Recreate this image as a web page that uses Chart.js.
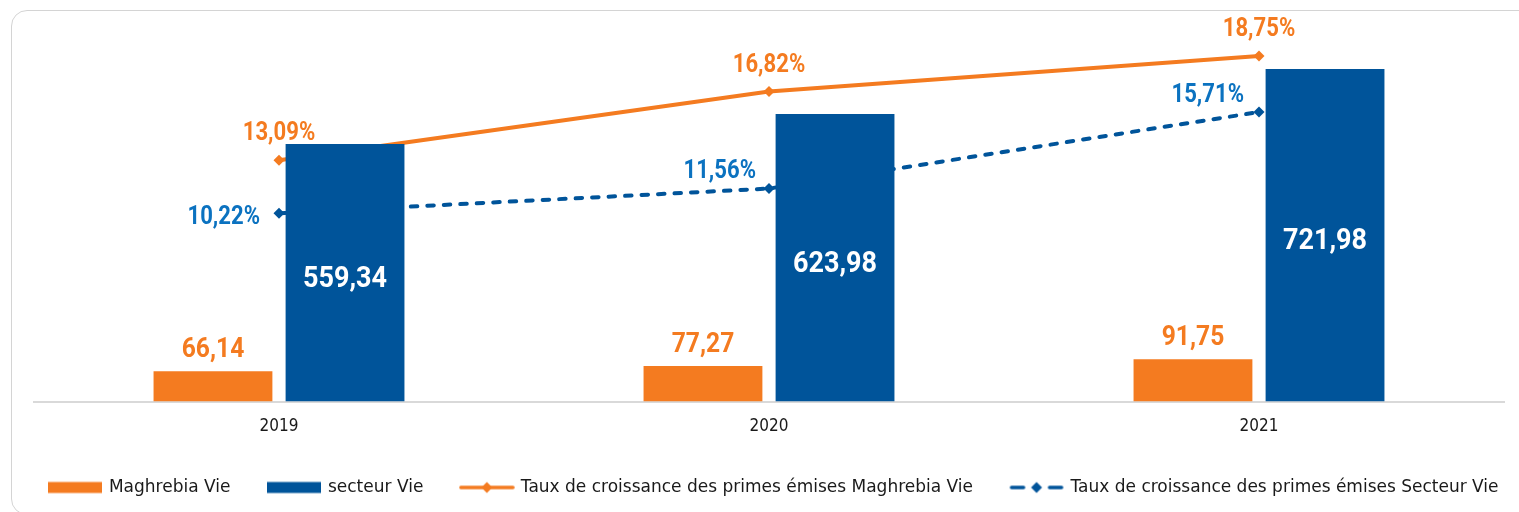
<!DOCTYPE html>
<html>
<head>
<meta charset="utf-8">
<script src="https://cdn.jsdelivr.net/npm/chart.js@4.4.0/dist/chart.umd.min.js"></script>
<style>
  html, body { margin: 0; padding: 0; background: #fff; overflow: hidden; }
  #wrap { position: relative; width: 1519px; height: 512px; overflow: hidden; }
  #card {
    position: absolute; left: 11px; top: 10px; width: 1540px; height: 505px;
    border: 1.5px solid #d4d4d4; border-radius: 16px; box-sizing: border-box;
  }
  #myChart { position: absolute; left: 0; top: 0; }
</style>
</head>
<body>
<div id="wrap">
  <div id="card"></div>
  <canvas id="myChart" width="1519" height="512"></canvas>
</div>
<script>
const years = ["2019", "2020", "2021"];
const maghrebiaVie = [66.14, 77.27, 91.75];
const secteurVie = [559.34, 623.98, 721.98];
const tauxMaghrebia = [13.09, 16.82, 18.75];
const tauxSecteur = [10.22, 11.56, 15.71];
const seriesNames = [
  "Maghrebia Vie",
  "secteur Vie",
  "Taux de croissance des primes émises Maghrebia Vie",
  "Taux de croissance des primes émises Secteur Vie",
];

const ORANGE = "#f47b20",
  BLUE = "#00549a",
  LABEL_BLUE = "#0b72c0";

// where the labels of the blue % line sit, relative to each point
const secteurLabelShift = [
  { dx: -19, dy: 11 },
  { dx: -13, dy: -11 },
  { dx: -15, dy: -10 },
];

function fmt(v, pct) {
  return v.toFixed(2).replace(".", ",") + (pct ? "%" : "");
}

function legendIcon(kind, color) {
  const c = document.createElement("canvas");
  c.width = 56;
  c.height = 14;
  const g = c.getContext("2d");
  g.fillStyle = color;
  g.strokeStyle = color;
  if (kind === "bar") {
    g.fillRect(1, 1.5, 54, 11);
    return c;
  }
  g.lineWidth = 3.5;
  g.lineCap = "round";
  g.beginPath();
  if (kind === "line") {
    g.moveTo(2, 7);
    g.lineTo(54, 7);
  } else {
    g.moveTo(3, 7);
    g.lineTo(15, 7);
    g.moveTo(41, 7);
    g.lineTo(53, 7);
  }
  g.stroke();
  g.beginPath();
  g.moveTo(28, 1.5);
  g.lineTo(33.5, 7);
  g.lineTo(28, 12.5);
  g.lineTo(22.5, 7);
  g.closePath();
  g.fill();
  return c;
}

const legendIcons = [
  legendIcon("bar", ORANGE),
  legendIcon("bar", BLUE),
  legendIcon("line", ORANGE),
  legendIcon("dash", BLUE),
];

function condensedText(ctx, text, x, y, align, font, color, sx) {
  ctx.save();
  ctx.font = font;
  ctx.fillStyle = color;
  ctx.textAlign = align;
  ctx.textBaseline = "alphabetic";
  ctx.translate(x, y);
  ctx.scale(sx, 1);
  ctx.fillText(text, 0, 0);
  ctx.restore();
}

const valueLabels = {
  id: "valueLabels",
  afterDatasetsDraw(chart) {
    const ctx = chart.ctx;
    const f = "Roboto, 'DejaVu Sans', sans-serif";
    chart.getDatasetMeta(0).data.forEach((el, j) => {
      condensedText(ctx, fmt(maghrebiaVie[j]), el.x, el.y - 14, "center", "bold 28px " + f, ORANGE, 0.88);
    });
    chart.getDatasetMeta(1).data.forEach((el, j) => {
      const mid = (el.y + el.base) / 2;
      condensedText(ctx, fmt(secteurVie[j]), el.x, mid + 14, "center", "bold 30px " + f, "#ffffff", 0.9);
    });
    chart.getDatasetMeta(2).data.forEach((el, j) => {
      condensedText(ctx, fmt(tauxMaghrebia[j], true), el.x, el.y - 20, "center", "bold 26px " + f, ORANGE, 0.85);
    });
    chart.getDatasetMeta(3).data.forEach((el, j) => {
      const s = secteurLabelShift[j];
      condensedText(ctx, fmt(tauxSecteur[j], true), el.x + s.dx, el.y + s.dy, "right", "bold 26px " + f, LABEL_BLUE, 0.85);
    });
  },
};

// keep the four legend items on one row (the row is wider than the plot),
// and nudge it a little to the right, like the original
const legendRow = {
  id: "legendRow",
  afterInit(chart) {
    const lg = chart.legend;
    const fitRows = lg._fitRows;
    lg._fitRows = function (...args) {
      const m = this.maxWidth;
      this.maxWidth = m + 300;
      const h = fitRows.apply(this, args);
      this.maxWidth = m;
      return h;
    };
  },
  afterLayout(chart) {
    chart.legend.left += 5 - 150;
    chart.legend.right += 5 + 150;
  },
};

const chart = new Chart("myChart", {
  data: {
    labels: years,
    datasets: [
      {
        type: "bar",
        label: seriesNames[0],
        data: maghrebiaVie,
        backgroundColor: ORANGE,
        borderWidth: 0,
        yAxisID: "y",
        order: 1,
        categoryPercentage: 0.539,
        barPercentage: 0.9,
      },
      {
        type: "bar",
        label: seriesNames[1],
        data: secteurVie,
        backgroundColor: BLUE,
        borderWidth: 0,
        yAxisID: "y",
        order: 1,
        categoryPercentage: 0.539,
        barPercentage: 0.9,
      },
      {
        type: "line",
        label: seriesNames[2],
        data: tauxMaghrebia,
        borderColor: ORANGE,
        backgroundColor: ORANGE,
        borderWidth: 4,
        pointStyle: "rectRot",
        pointRadius: 5.5,
        pointBorderWidth: 0,
        tension: 0,
        yAxisID: "y2",
        order: 2,
      },
      {
        type: "line",
        label: seriesNames[3],
        data: tauxSecteur,
        borderColor: BLUE,
        backgroundColor: BLUE,
        borderWidth: 4,
        borderDash: [6.5, 10],
        borderCapStyle: "round",
        pointStyle: "rectRot",
        pointRadius: 5.5,
        pointBorderWidth: 0,
        tension: 0,
        yAxisID: "y2",
        order: 2,
      },
    ],
  },
  options: {
    responsive: false,
    animation: false,
    layout: { padding: { left: 34, right: 15, top: 33, bottom: 6 } },
    scales: {
      x: {
        grid: { display: false, drawTicks: false },
        border: { color: "#d9d9d9", width: 2 },
        ticks: {
          color: "#1a1a1a",
          padding: 15,
          font: { family: "'DejaVu Sans Condensed', sans-serif", size: 17 },
        },
        afterFit(scale) {
          scale.height -= 11;
        },
      },
      y: { display: false, min: 0, max: 800 },
      y2: { display: false, min: 0, max: 20, position: "right" },
    },
    plugins: {
      tooltip: { enabled: false },
      legend: {
        position: "bottom",
        labels: {
          usePointStyle: true,
          pointStyleWidth: 51,
          boxHeight: 14,
          padding: 38,
          color: "#1a1a1a",
          font: { family: "'DejaVu Sans', sans-serif", size: 17 },
          sort: (a, b) => a.datasetIndex - b.datasetIndex,
          generateLabels(chart) {
            const items = Chart.defaults.plugins.legend.labels.generateLabels(chart);
            items.forEach((it) => {
              it.pointStyle = legendIcons[it.datasetIndex];
              it.lineWidth = 0;
            });
            return items;
          },
        },
      },
    },
  },
  plugins: [valueLabels, legendRow],
});
</script>
</body>
</html>
